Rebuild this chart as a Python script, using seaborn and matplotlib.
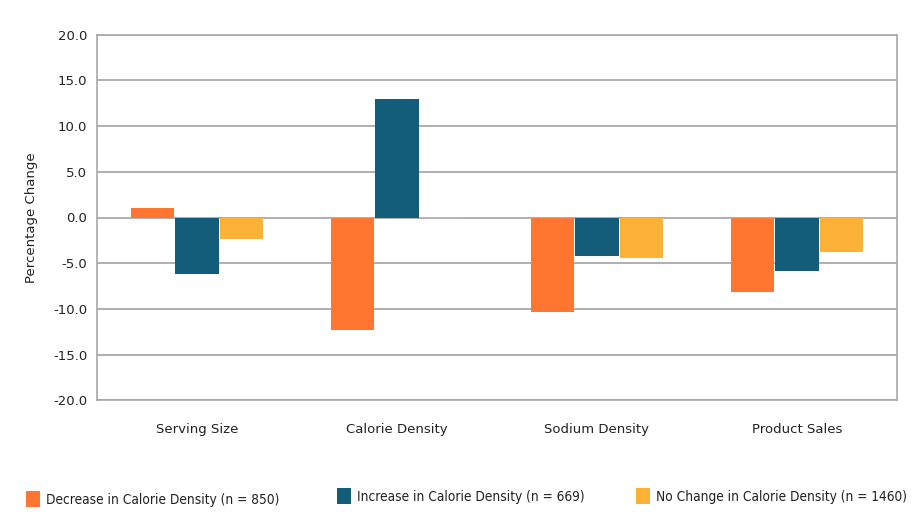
import matplotlib
matplotlib.use("Agg")
import matplotlib.pyplot as plt
import seaborn as sns
import pandas as pd
from matplotlib.patches import Patch
from matplotlib import font_manager as fm

categories = ["Serving Size", "Calorie Density", "Sodium Density", "Product Sales"]
series_names = ["Decrease in Calorie Density (n = 850)",
                "Increase in Calorie Density (n = 669)",
                "No Change in Calorie Density (n = 1460)"]
decrease = [1.0, -12.3, -10.3, -8.2]
increase = [-6.2, 13.0, -4.2, -5.8]
no_change = [-2.3, 0.1, -4.4, -3.8]
colors = ["#FE7630", "#135C7A", "#FDB237"]
yticks = [20.0, 15.0, 10.0, 5.0, 0.0, -5.0, -10.0, -15.0, -20.0]

rows = []
for name, vals in zip(series_names, [decrease, increase, no_change]):
    for c, v in zip(categories, vals):
        rows.append({"category": c, "series": name, "value": v})
df = pd.DataFrame(rows)

sns.set_style("white")
plt.rcParams['font.family'] = ['DejaVu Sans']

has_cond = any("Condensed" in f.fname or f.stretch == "condensed" for f in fm.fontManager.ttflist
               if f.name == "DejaVu Sans")
leg_size = 9.8 if has_cond else 8.7

fig = plt.figure(figsize=(9.2, 5.3), dpi=100)
ax = fig.add_axes([97/920, 1 - 400.3/530, 800/920, (400.3 - 34.7)/530])

sns.barplot(data=df, x="category", y="value", hue="series", order=categories,
            hue_order=series_names, palette=colors, width=0.67, gap=0.03,
            saturation=1, ax=ax, legend=False, edgecolor="none")

ax.set_ylim(-20, 20)
ax.set_yticks(yticks)
ax.set_yticklabels([f"{t:.1f}" for t in yticks], fontsize=9.5, color="#222222")
ax.yaxis.grid(True, color="#9a9a9a", linewidth=1.1)
ax.set_axisbelow(True)
for s in ax.spines.values():
    s.set_color("#a8a8a8")
    s.set_linewidth(1.2)
ax.tick_params(axis="both", length=0)
ax.tick_params(axis="y", pad=7)
ax.tick_params(axis="x", pad=16, labelsize=9.5, labelcolor="#222222")
ax.set_xlabel("")
ax.set_ylabel("Percentage Change", fontsize=9.5, color="#222222", labelpad=11)

legend_x = [26, 337, 636]
legend_y = [499, 496, 496]
for name, col, lx, ly in zip(series_names, colors, legend_x, legend_y):
    lg = fig.legend([Patch(facecolor=col, edgecolor="none")], [name],
                    loc="center left", bbox_to_anchor=(lx/920, 1 - ly/530),
                    frameon=False, borderpad=0, borderaxespad=0,
                    handlelength=1.05, handleheight=1.35, handletextpad=0.45,
                    prop={"family": "DejaVu Sans", "stretch": "condensed", "size": leg_size})
    for t in lg.get_texts():
        t.set_color("#222222")

fig.savefig("out.png", dpi=100, facecolor="white")
